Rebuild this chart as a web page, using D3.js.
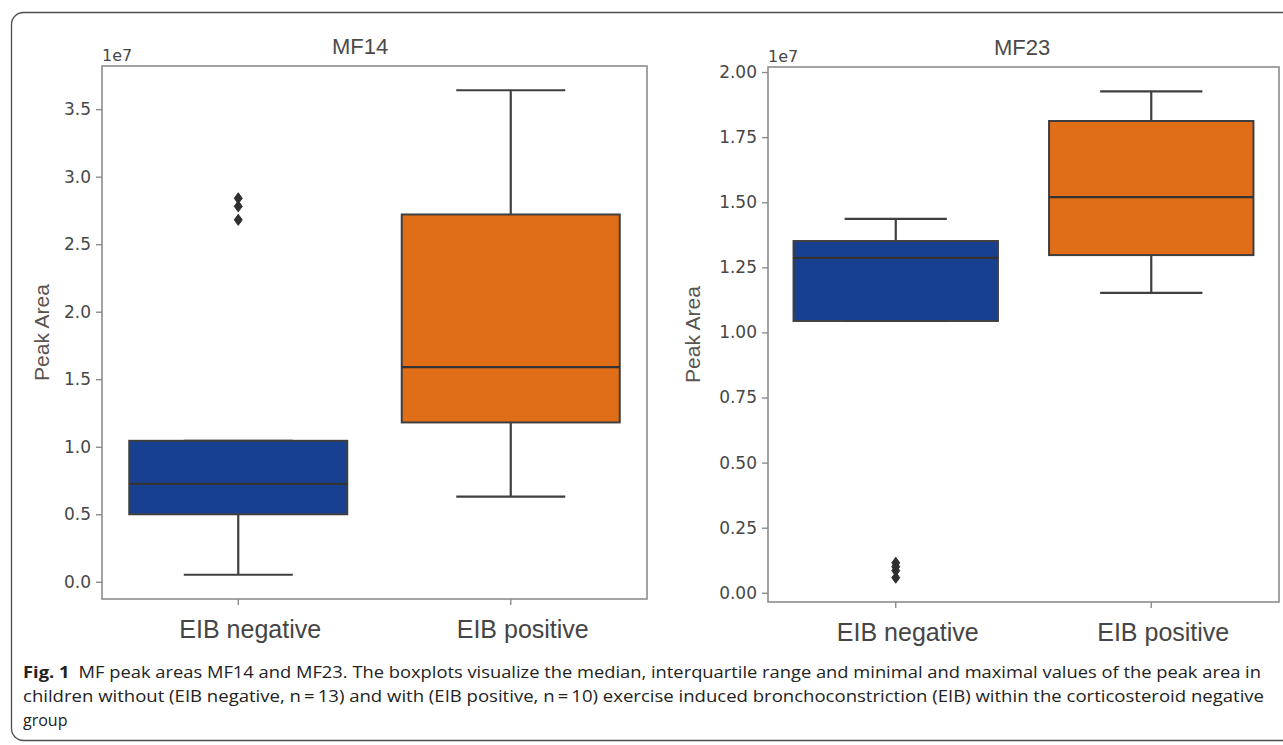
<!DOCTYPE html>
<html>
<head>
<meta charset="utf-8">
<script src="https://cdn.jsdelivr.net/npm/d3@7"></script>
<style>
  body { margin: 0; background: #fff; }
  svg { display: block; }
</style>
</head>
<body>
<div id="chart"></div>
<script>
// categories
var groups = ["EIB negative", "EIB positive"];

// MF14 box stats (units of 1e7)
var mf14Low = [0.052, 0.63];
var mf14Q1 = [0.50, 1.18];
var mf14Median = [0.725, 1.59];
var mf14Q3 = [1.044, 2.72];
var mf14High = [1.044, 3.64];
var mf14Outliers = [[2.84, 2.78, 2.68], []];
var mf14Ticks = [0, 0.5, 1.0, 1.5, 2.0, 2.5, 3.0, 3.5];

// MF23 box stats (units of 1e7)
var mf23Low = [1.044, 1.152];
var mf23Q1 = [1.044, 1.297];
var mf23Median = [1.286, 1.52];
var mf23Q3 = [1.351, 1.812];
var mf23High = [1.436, 1.926];
var mf23Outliers = [[0.115, 0.10, 0.085, 0.058], []];
var mf23Ticks = [0, 0.25, 0.5, 0.75, 1.0, 1.25, 1.5, 1.75, 2.0];

var colors = ["#174190", "#e06d17"];

var captionLines = [
  "MF peak areas MF14 and MF23. The boxplots visualize the median, interquartile range and minimal and maximal values of the peak area in",
  "children without (EIB negative, n\u2009=\u200913) and with (EIB positive, n\u2009=\u200910) exercise induced bronchoconstriction (EIB) within the corticosteroid negative",
  "group"
];

var width = 1283, height = 745;

var svg = d3.select("#chart")
  .append("svg")
  .attr("width", width)
  .attr("height", height);

// outer frame
svg.append("rect")
  .attr("x", 11.5).attr("y", 12.5)
  .attr("width", 1300).attr("height", 728)
  .attr("rx", 12)
  .attr("fill", "none")
  .attr("stroke", "#4d4d4d")
  .attr("stroke-width", 1.3);

function drawPanel(opt) {
  var g = svg.append("g");

  // seaborn-like limits: data range padded by 5%
  var all = opt.low.concat(opt.high, opt.outliers[0], opt.outliers[1]);
  var mn = d3.min(all), mx = d3.max(all), pad = (mx - mn) * 0.05;

  var x = d3.scaleBand().domain(groups).range([opt.left, opt.right]).padding(0);
  var y = d3.scaleLinear().domain([mn - pad, mx + pad]).range([opt.bottom, opt.top]);

  var bw = x.bandwidth() * 0.8;

  // y axis
  var yAxis = d3.axisLeft(y).tickValues(opt.ticks).tickFormat(d3.format(opt.fmt))
    .tickSize(6).tickPadding(5);
  var ya = g.append("g").attr("transform", "translate(" + opt.left + ",0)").call(yAxis);
  ya.select(".domain").remove();
  ya.selectAll("line").attr("stroke", "#8c8c8c").attr("stroke-width", 1.4);
  ya.selectAll("text")
    .attr("font-family", "DejaVu Sans")
    .attr("font-size", 17)
    .attr("fill", "#474747");

  // x axis
  var xAxis = d3.axisBottom(x).tickSize(6).tickFormat("");
  var xa = g.append("g").attr("transform", "translate(0," + opt.bottom + ")").call(xAxis);
  xa.select(".domain").remove();
  xa.selectAll("line").attr("stroke", "#8c8c8c").attr("stroke-width", 1.4);

  g.selectAll(".xlab")
    .data(groups)
    .enter()
    .append("text")
    .attr("x", function (d) { return x(d) + x.bandwidth() / 2 + 12; })
    .attr("y", opt.bottom + 39)
    .attr("text-anchor", "middle")
    .attr("font-family", "Liberation Sans, Arial")
    .attr("font-size", 25)
    .attr("fill", "#454545")
    .text(function (d) { return d; });

  // boxes
  groups.forEach(function (grp, i) {
    var cx = x(grp) + x.bandwidth() / 2;
    var lineCol = "#3f3f3f";

    // whiskers
    g.append("line")
      .attr("x1", cx).attr("x2", cx)
      .attr("y1", y(opt.q3[i])).attr("y2", y(opt.high[i]))
      .attr("stroke", lineCol).attr("stroke-width", 2.2);
    g.append("line")
      .attr("x1", cx).attr("x2", cx)
      .attr("y1", y(opt.q1[i])).attr("y2", y(opt.low[i]))
      .attr("stroke", lineCol).attr("stroke-width", 2.2);
    [opt.low[i], opt.high[i]].forEach(function (v) {
      g.append("line")
        .attr("x1", cx - bw / 4).attr("x2", cx + bw / 4)
        .attr("y1", y(v)).attr("y2", y(v))
        .attr("stroke", lineCol).attr("stroke-width", 2.2);
    });

    g.append("rect")
      .attr("x", cx - bw / 2)
      .attr("y", y(opt.q3[i]))
      .attr("width", bw)
      .attr("height", y(opt.q1[i]) - y(opt.q3[i]))
      .attr("fill", colors[i])
      .attr("stroke", lineCol)
      .attr("stroke-width", 2);

    g.append("line")
      .attr("x1", cx - bw / 2).attr("x2", cx + bw / 2)
      .attr("y1", y(opt.median[i])).attr("y2", y(opt.median[i]))
      .attr("stroke", "#333").attr("stroke-width", 2.2);

    g.selectAll(null)
      .data(opt.outliers[i])
      .enter()
      .append("path")
      .attr("d", "M0,-5.5L4,0L0,5.5L-4,0Z")
      .attr("transform", function (d) { return "translate(" + cx + "," + y(d) + ")"; })
      .attr("fill", "#2f2f2f")
      .attr("stroke", "#2f2f2f")
      .attr("stroke-width", 1);
  });

  // spines
  g.append("rect")
    .attr("x", opt.left).attr("y", opt.top)
    .attr("width", opt.right - opt.left)
    .attr("height", opt.bottom - opt.top)
    .attr("fill", "none")
    .attr("stroke", "#8c8c8c")
    .attr("stroke-width", 1.6);

  // offset text
  g.append("text")
    .attr("x", opt.left).attr("y", opt.top - 5)
    .attr("font-family", "DejaVu Sans")
    .attr("font-size", 16)
    .attr("fill", "#474747")
    .text("1e7");

  // title
  g.append("text")
    .attr("x", opt.titleX).attr("y", opt.top - 12)
    .attr("text-anchor", "middle")
    .attr("font-family", "Liberation Sans, Arial")
    .attr("font-size", 22)
    .attr("fill", "#4a4a4a")
    .text(opt.title);

  // y label
  g.append("text")
    .attr("transform", "translate(" + opt.ylabX + "," + ((opt.top + opt.bottom) / 2) + ") rotate(-90)")
    .attr("text-anchor", "middle")
    .attr("font-family", "Liberation Sans, Arial")
    .attr("font-size", 21)
    .attr("fill", "#5a5450")
    .text("Peak Area");
}

drawPanel({
  title: "MF14", titleX: 360, ylabX: 49,
  left: 102, right: 647, top: 66, bottom: 599,
  low: mf14Low, q1: mf14Q1, median: mf14Median, q3: mf14Q3, high: mf14High,
  outliers: mf14Outliers, ticks: mf14Ticks, fmt: ".1f"
});

drawPanel({
  title: "MF23", titleX: 1022, ylabX: 700,
  left: 768, right: 1279, top: 67, bottom: 602,
  low: mf23Low, q1: mf23Q1, median: mf23Median, q3: mf23Q3, high: mf23High,
  outliers: mf23Outliers, ticks: mf23Ticks, fmt: ".2f"
});

// caption
var cap = svg.append("g")
  .attr("font-family", "Open Sans")
  .attr("font-size", 16)
  .attr("fill", "#222");

var l1 = cap.append("text")
  .attr("x", 23).attr("y", 678)
  .attr("textLength", 1238)
  .attr("lengthAdjust", "spacingAndGlyphs");
l1.append("tspan").attr("font-weight", "bold").text("Fig. 1");
l1.append("tspan").text("\u2002" + captionLines[0]);

cap.append("text")
  .attr("x", 23).attr("y", 702)
  .attr("textLength", 1241)
  .attr("lengthAdjust", "spacingAndGlyphs")
  .text(captionLines[1]);

cap.append("text")
  .attr("x", 23).attr("y", 726)
  .text(captionLines[2]);
</script>
</body>
</html>
